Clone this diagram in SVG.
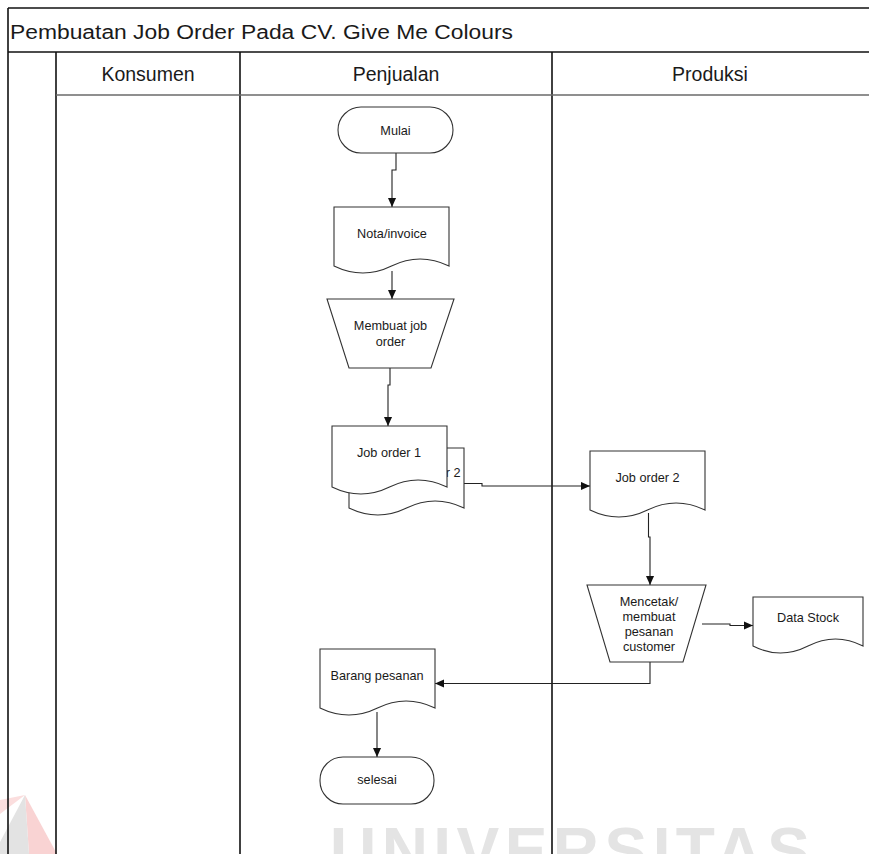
<svg xmlns="http://www.w3.org/2000/svg" width="869" height="854" viewBox="0 0 869 854">
  <style>
    text { font-family: "Liberation Sans", Arial, sans-serif; fill: #1a1a1a; }
    .title { font-size: 20px; }
    .lane-title { font-size: 19.5px; text-anchor: middle; }
    .label { font-size: 12.7px; text-anchor: middle; }
    .shape { fill: #ffffff; stroke: #333333; stroke-width: 1.1; }
    .frame { stroke: #111111; stroke-width: 1.6; fill: none; }
    .edge { fill: none; stroke: #222222; stroke-width: 1.1; marker-end: url(#arrow); }
    .mark { font-size: 64px; font-weight: bold; fill: #e4e4e4; }
  </style>
  <defs>
    <marker id="arrow" viewBox="0 0 10 10" refX="10" refY="5" markerWidth="9" markerHeight="9" markerUnits="userSpaceOnUse" orient="auto">
      <path d="M0,0.5 L10,5 L0,9.5 z" fill="#111111"/>
    </marker>
  </defs>

  <rect x="0" y="0" width="869" height="854" fill="#ffffff"/>

  <!-- faint background emblem and lettering -->
  <g id="emblem">
    <polygon points="25,795 57,854 29,854" fill="#f9d3d3"/>
    <polygon points="25,795 29,854 0,854 0,842" fill="#e3e3e3"/>
    <polygon points="0,800 25,795 0,814" fill="#fbdede"/>
  </g>
  <text class="mark" x="330" y="873" textLength="480" lengthAdjust="spacing">UNIVERSITAS</text>

  <!-- swimlane frame -->
  <g id="pool">
    <line class="frame" x1="8" y1="8" x2="869" y2="8" stroke-width="2"/>
    <line class="frame" x1="8" y1="8" x2="8" y2="854"/>
    <line class="frame" x1="8" y1="52" x2="869" y2="52" stroke-width="2.4"/>
    <line class="frame" x1="56" y1="52" x2="56" y2="854"/>
    <line class="frame" x1="240" y1="52" x2="240" y2="854"/>
    <line class="frame" x1="552" y1="52" x2="552" y2="854"/>
    <line x1="56" y1="95" x2="869" y2="95" stroke="#6a6a6a" stroke-width="1.6"/>
    <text class="title" x="10" y="39" textLength="503" lengthAdjust="spacingAndGlyphs">Pembuatan Job Order Pada CV. Give Me Colours</text>
    <text class="lane-title" x="148" y="80.5">Konsumen</text>
    <text class="lane-title" x="396" y="80.5">Penjualan</text>
    <text class="lane-title" x="710" y="80.5">Produksi</text>
  </g>

  <!-- connectors -->
  <g id="connectors">
    <path class="edge" d="M396,153 V170 H392 V207"/>
    <path class="edge" d="M392,271 V299"/>
    <path class="edge" d="M390,368 V385 H388 V426"/>
    <path class="edge" d="M464,483.5 H482 V486 H590"/>
    <path class="edge" d="M648.5,513 V537 H650 V585"/>
    <path class="edge" d="M702,624 H730 V625.5 H753"/>
    <path class="edge" d="M650,662 V683.5 H435"/>
    <path class="edge" d="M377,712 V757"/>
  </g>

  <g id="mulai">
    <rect class="shape" x="338" y="107" width="115" height="46" rx="23" ry="23"/>
    <text class="label" x="395.5" y="134.5">Mulai</text>
  </g>

  <g id="nota-invoice">
    <path class="shape" d="M334,207 H449 V266 Q420,252 391.5,266 T334,266 Z"/>
    <text class="label" x="392" y="238">Nota/invoice</text>
  </g>

  <g id="membuat-job-order">
    <polygon class="shape" points="327,299 454,299 431,368 349,368"/>
    <text class="label" x="390.5" y="329.5">Membuat job</text>
    <text class="label" x="390.5" y="346">order</text>
  </g>

  <g id="job-order-copy">
    <path class="shape" d="M349,448 H464 V508 Q435,494 406.5,508 T349,508 Z"/>
    <text class="label" x="460.5" y="477" style="text-anchor:end">Job order 2</text>
  </g>

  <g id="job-order-1">
    <path class="shape" d="M332,426 H447 V487 Q418,473 389.5,487 T332,487 Z"/>
    <text class="label" x="389" y="456.5">Job order 1</text>
  </g>

  <g id="job-order-2">
    <path class="shape" d="M590,451 H705 V510 Q676,496 647.5,510 T590,510 Z"/>
    <text class="label" x="647.5" y="481.5">Job order 2</text>
  </g>

  <g id="mencetak">
    <polygon class="shape" points="587,585 706,585 683,662 610,662"/>
    <text class="label" x="649" y="606">Mencetak/</text>
    <text class="label" x="649" y="621">membuat</text>
    <text class="label" x="649" y="636">pesanan</text>
    <text class="label" x="649" y="651">customer</text>
  </g>

  <g id="data-stock">
    <path class="shape" d="M753,597 H863 V646 Q835.5,632 808,646 T753,646 Z"/>
    <text class="label" x="808" y="621.5">Data Stock</text>
  </g>

  <g id="barang-pesanan">
    <path class="shape" d="M320,649 H435 V708 Q406,694 377.5,708 T320,708 Z"/>
    <text class="label" x="377" y="679.5">Barang pesanan</text>
  </g>

  <g id="selesai">
    <rect class="shape" x="320" y="757" width="114" height="47" rx="23" ry="23"/>
    <text class="label" x="377" y="783.5">selesai</text>
  </g>
</svg>
